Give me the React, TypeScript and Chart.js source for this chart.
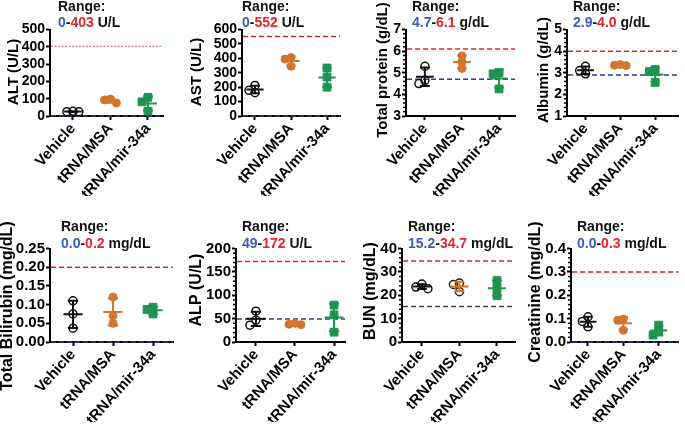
import React, { useEffect, useRef } from 'react';
import { Chart, registerables } from 'chart.js';

Chart.register(...registerables);

const FONT = "'Liberation Sans', Arial, Helvetica, sans-serif";

const categories = ['Vehicle', 'tRNA/MSA', 'tRNA/mir-34a'];

// ALT (U/L)
const altVehicle = [24, 27, 25];
const altMSA = [98, 93, 75];
const altMir = [108, 82, 28];
const altRange = [0, 403];
const altAxis = [0, 500, 100];

// AST (U/L)
const astVehicle = [212, 178, 162];
const astMSA = [405, 395, 345];
const astMir = [333, 270, 200];
const astRange = [0, 552];
const astAxis = [0, 600, 100];

// Total protein (g/dL)
const tpVehicle = [5.3, 4.65, 4.5];
const tpMSA = [5.78, 5.5, 5.2];
const tpMir = [5.0, 4.95, 4.25];
const tpRange = [4.7, 6.1];
const tpAxis = [3, 7, 1];

// Albumin (g/dL)
const albVehicle = [3.3, 3.1, 2.95];
const albMSA = [3.38, 3.35, 3.33];
const albMir = [3.15, 3.05, 2.55];
const albRange = [2.9, 4.0];
const albAxis = [1, 5, 1];

// Total Bilirubin (mg/dL)
const bilVehicle = [0.11, 0.075, 0.037];
const bilMSA = [0.12, 0.07, 0.05];
const bilMir = [0.093, 0.087, 0.075];
const bilRange = [0.0, 0.2];
const bilAxis = [0, 0.25, 0.05];

// ALP (U/L)
const alpVehicle = [66, 47, 36];
const alpMSA = [40, 38, 37];
const alpMir = [79, 58, 21];
const alpRange = [49, 172];
const alpAxis = [0, 200, 50];

// BUN (mg/dL)
const bunVehicle = [24.8, 23.5, 22.8];
const bunMSA = [25.2, 24.6, 21.5];
const bunMir = [26.3, 23, 19.8];
const bunRange = [15.2, 34.7];
const bunAxis = [0, 40, 10];

// Creatinine (mg/dL)
const crVehicle = [0.108, 0.088, 0.065];
const crMSA = [0.098, 0.093, 0.05];
const crMir = [0.072, 0.045, 0.03];
const crRange = [0.0, 0.3];
const crAxis = [0, 0.4, 0.1];

const BLACK = '#111111';
const ORANGE = '#D2752F';
const GREEN = '#1E9352';
const RED = '#E4262C';
const BLUE_LINE = '#2E3D8F';
const BLUE_TEXT = '#3D5CB8';

type Layout = {
  axisX: number; rightX: number; topY: number; bottomY: number;
  xMin: number; xMax: number; yTitleX: number; yTitleY: number; titleX: number; t1: number; t2: number;
  tickFont: number; titleFont: number; labelFont: number; headFont: number;
};

type Panel = {
  title: string; unit: string; groups: number[][]; range: number[]; rangeDec: number;
  axis: number[]; tickDec: number; minor: number; msaOpen?: boolean; redDotted?: boolean;
  L: Layout;
};

const top = (axisX: number, rightX: number, xMin: number, xMax: number, yTitleX: number, yTitleY: number, titleX: number): Layout => ({
  axisX, rightX, topY: 29.5, bottomY: 116, xMin, xMax, yTitleX, yTitleY, titleX, t1: 11, t2: 27,
  tickFont: 14, titleFont: 15, labelFont: 15, headFont: 14,
});
const bottom = (axisX: number, rightX: number, xMin: number, xMax: number, yTitleX: number, yTitleY: number, titleX: number): Layout => ({
  axisX, rightX, topY: 248.5, bottomY: 342, xMin, xMax, yTitleX, yTitleY, titleX, t1: 231, t2: 248,
  tickFont: 15, titleFont: 16, labelFont: 15, headFont: 14,
});

const panels: Panel[] = [
  { title: 'ALT (U/L)', unit: 'U/L', groups: [altVehicle, altMSA, altMir], range: altRange, rangeDec: 0, axis: altAxis, tickDec: 0, minor: 0, redDotted: true, L: top(50, 163, -0.61, 2.4, 14, 72, 58) },
  { title: 'AST (U/L)', unit: 'U/L', groups: [astVehicle, astMSA, astMir], range: astRange, rangeDec: 0, axis: astAxis, tickDec: 0, minor: 0, L: top(242, 340, -0.36, 2.36, 197, 72, 242) },
  { title: 'Total protein (g/dL)', unit: 'g/dL', groups: [tpVehicle, tpMSA, tpMir], range: tpRange, rangeDec: 1, axis: tpAxis, tickDec: 0, minor: 0.2, L: top(406, 515, -0.51, 2.43, 383, 70, 412) },
  { title: 'Albumin (g/dL)', unit: 'g/dL', groups: [albVehicle, albMSA, albMir], range: albRange, rangeDec: 1, axis: albAxis, tickDec: 0, minor: 0.2, L: top(567, 682, -0.53, 2.67, 544, 70, 573) },
  { title: 'Total Bilirubin (mg/dL)', unit: 'mg/dL', groups: [bilVehicle, bilMSA, bilMir], range: bilRange, rangeDec: 1, axis: bilAxis, tickDec: 2, minor: 0, L: bottom(50, 173, -0.575, 2.5, 8, 306, 61) },
  { title: 'ALP (U/L)', unit: 'U/L', groups: [alpVehicle, alpMSA, alpMir], range: alpRange, rangeDec: 0, axis: alpAxis, tickDec: 0, minor: 10, L: bottom(236, 345, -0.51, 2.28, 197, 290, 242) },
  { title: 'BUN (mg/dL)', unit: 'mg/dL', groups: [bunVehicle, bunMSA, bunMir], range: bunRange, rangeDec: 1, axis: bunAxis, tickDec: 0, minor: 2, msaOpen: true, L: bottom(402, 515, -0.53, 2.48, 371, 291, 408) },
  { title: 'Creatinine (mg/dL)', unit: 'mg/dL', groups: [crVehicle, crMSA, crMir], range: crRange, rangeDec: 1, axis: crAxis, tickDec: 1, minor: 0.02, L: bottom(571, 685, -0.48, 2.56, 536, 292, 577) },
];

const W = 685;
const H = 430;

function meanSd(v: number[]) {
  const m = v.reduce((a, b) => a + b, 0) / v.length;
  const s = Math.sqrt(v.reduce((a, b) => a + (b - m) * (b - m), 0) / (v.length - 1));
  return [m, s];
}

function swarm(values: number[], thrV: number, step: number) {
  const idx = values.map((_, i) => i).sort((a, b) => values[b] - values[a]);
  const placed: { v: number; dx: number }[] = [];
  const off: number[] = new Array(values.length).fill(0);
  const cands = [0, -1, 1, -2, 2];
  for (const i of idx) {
    const v = values[i];
    let chosen = 0;
    for (const c of cands) {
      const dx = c * step;
      const clash = placed.some((p) => Math.abs(p.v - v) < thrV && Math.abs(p.dx - dx) < step * 0.9);
      if (!clash) { chosen = dx; break; }
    }
    placed.push({ v, dx: chosen });
    off[i] = chosen;
  }
  return off;
}

function decor(p: Panel) {
  const gColors = [BLACK, ORANGE, GREEN];
  return {
    id: 'decor',
    beforeDatasetsDraw(chart: any) {
      const { ctx, chartArea: a, scales } = chart;
      const y = scales.y;
      ctx.save();
      if (p.minor) {
        ctx.strokeStyle = '#000';
        ctx.lineWidth = 1.5;
        const [mn, mx, st] = p.axis;
        const n = Math.round((mx - mn) / p.minor);
        for (let i = 0; i <= n; i++) {
          const v = mn + i * p.minor;
          const r = (v - mn) / st;
          if (Math.abs(r - Math.round(r)) < 1e-6) continue;
          const py = y.getPixelForValue(v);
          ctx.beginPath();
          ctx.moveTo(a.left - 3, py);
          ctx.lineTo(a.left, py);
          ctx.stroke();
        }
      }
      const ref = (v: number, color: string, dash: number[], w: number) => {
        const py = y.getPixelForValue(v);
        ctx.setLineDash(dash);
        ctx.strokeStyle = color;
        ctx.lineWidth = w;
        ctx.beginPath();
        ctx.moveTo(a.left + 1, py);
        ctx.lineTo(a.right, py);
        ctx.stroke();
      };
      if (p.redDotted) ref(p.range[1], '#E0505C', [2, 1.5], 1);
      else ref(p.range[1], RED, [5, 3], 1.5);
      ref(p.range[0], BLUE_LINE, [5, 3], 1.5);
      ctx.restore();
    },
    afterDatasetsDraw(chart: any) {
      const { ctx, scales } = chart;
      const x = scales.x;
      const y = scales.y;
      ctx.save();
      ctx.lineWidth = 2;
      p.groups.forEach((vals, g) => {
        const [m, s] = meanSd(vals);
        ctx.strokeStyle = gColors[g];
        const cx = x.getPixelForValue(g);
        const mx1 = x.getPixelForValue(g - 0.24);
        const mx2 = x.getPixelForValue(g + 0.24);
        const cw = x.getPixelForValue(g + 0.13) - cx;
        const pm = y.getPixelForValue(m);
        const pt = y.getPixelForValue(m + s);
        const pb = y.getPixelForValue(m - s);
        ctx.beginPath();
        ctx.moveTo(mx1, pm); ctx.lineTo(mx2, pm);
        ctx.moveTo(cx, pt); ctx.lineTo(cx, pb);
        ctx.moveTo(cx - cw, pt); ctx.lineTo(cx + cw, pt);
        ctx.moveTo(cx - cw, pb); ctx.lineTo(cx + cw, pb);
        ctx.stroke();
      });
      ctx.restore();
    },
    afterDraw(chart: any) {
      const { ctx } = chart;
      const L = p.L;
      ctx.save();
      // y-axis title
      ctx.font = `bold ${L.titleFont}px ${FONT}`;
      ctx.fillStyle = '#000';
      ctx.textAlign = 'center';
      ctx.textBaseline = 'middle';
      ctx.save();
      ctx.translate(L.yTitleX, L.yTitleY);
      ctx.rotate(-Math.PI / 2);
      ctx.fillText(p.title, 0, 0);
      ctx.restore();
      // header
      ctx.font = `bold ${L.headFont}px ${FONT}`;
      ctx.textAlign = 'left';
      ctx.textBaseline = 'alphabetic';
      ctx.fillStyle = BLACK;
      ctx.fillText('Range:', L.titleX, L.t1);
      const parts: [string, string][] = [
        [p.range[0].toFixed(p.rangeDec), BLUE_TEXT],
        ['-', BLACK],
        [p.range[1].toFixed(p.rangeDec), RED],
        [' ' + p.unit, BLACK],
      ];
      let cx = L.titleX;
      for (const [s, c] of parts) {
        ctx.fillStyle = c;
        ctx.fillText(s, cx, L.t2);
        cx += ctx.measureText(s).width;
      }
      ctx.restore();
    },
  };
}

function makeChart(canvas: HTMLCanvasElement, p: Panel) {
  const L = p.L;
  const yW = L.axisX;
  const xH = 80;
  const padRight = W - L.rightX;
  const padTop = L.topY;
  const padBottom = H - L.bottomY - xH;
  const [ymin, ymax, ystep] = p.axis;
  const plotH = L.bottomY - L.topY;
  const catPx = (L.rightX - L.axisX) / (L.xMax - L.xMin);
  const thrV = ((ymax - ymin) * 6) / plotH;
  const step = 6 / catPx;

  const styles = [
    { pointStyle: 'circle', radius: 4, bg: 'rgba(0,0,0,0)', border: BLACK, bw: 1.5 },
    p.msaOpen
      ? { pointStyle: 'circle', radius: 4, bg: 'rgba(0,0,0,0)', border: '#2a1a10', bw: 1.5 }
      : { pointStyle: 'circle', radius: 4, bg: ORANGE, border: ORANGE, bw: 1 },
    { pointStyle: 'rect', radius: 5.5, bg: GREEN, border: GREEN, bw: 1 },
  ];

  const datasets = p.groups.map((vals, g) => {
    const off = swarm(vals, thrV, step);
    const st = styles[g];
    return {
      label: categories[g],
      data: vals.map((v, i) => ({ x: g + off[i], y: v })),
      pointStyle: st.pointStyle,
      pointRadius: st.radius,
      pointBackgroundColor: st.bg,
      pointBorderColor: st.border,
      pointBorderWidth: st.bw,
    };
  });

  const majors: number[] = [];
  const nMaj = Math.round((ymax - ymin) / ystep);
  for (let i = 0; i <= nMaj; i++) majors.push(+(ymin + i * ystep).toFixed(6));

  return new Chart(canvas, {
    type: 'scatter',
    data: { datasets } as any,
    plugins: [decor(p) as any],
    options: {
      responsive: false,
      animation: false,
      events: [],
      layout: { padding: { left: 0, right: padRight, top: padTop, bottom: padBottom } },
      plugins: { legend: { display: false }, tooltip: { enabled: false } },
      scales: {
        x: {
          type: 'linear',
          min: L.xMin,
          max: L.xMax,
          afterBuildTicks: (s: any) => { s.ticks = [0, 1, 2].map((v) => ({ value: v })); },
          afterFit: (s: any) => { s.height = xH; },
          ticks: {
            autoSkip: false,
            minRotation: 48,
            maxRotation: 48,
            padding: 0,
            color: '#000',
            font: { family: FONT, size: L.labelFont, weight: 'bold' },
            callback: (v: any) => categories[Math.round(Number(v))] ?? '',
          },
          grid: { drawOnChartArea: false, drawTicks: true, tickLength: 4, tickWidth: 2, tickColor: '#000' },
          border: { display: true, color: '#000', width: 2 },
        },
        y: {
          type: 'linear',
          min: ymin,
          max: ymax,
          afterBuildTicks: (s: any) => { s.ticks = majors.map((v) => ({ value: v })); },
          afterFit: (s: any) => { s.width = yW; },
          ticks: {
            autoSkip: false,
            padding: 1,
            color: '#000',
            font: { family: FONT, size: L.tickFont, weight: 'bold' },
            callback: (v: any) => Number(v).toFixed(p.tickDec),
          },
          grid: { drawOnChartArea: false, drawTicks: true, tickLength: 4, tickWidth: 2, tickColor: '#000' },
          border: { display: true, color: '#000', width: 2 },
        },
      },
    } as any,
  });
}

function PanelChart({ p }: { p: Panel }) {
  const ref = useRef<HTMLCanvasElement>(null);
  useEffect(() => {
    if (!ref.current) return;
    const chart = makeChart(ref.current, p);
    return () => chart.destroy();
  }, [p]);
  return <canvas ref={ref} width={W} height={H} style={{ position: 'absolute', left: 0, top: 0 }} />;
}

export default function App() {
  return (
    <div style={{ position: 'fixed', left: 0, top: 0, width: W, height: H, background: '#fff', overflow: 'hidden' }}>
      {panels.map((p, i) => (
        <PanelChart key={i} p={p} />
      ))}
    </div>
  );
}
